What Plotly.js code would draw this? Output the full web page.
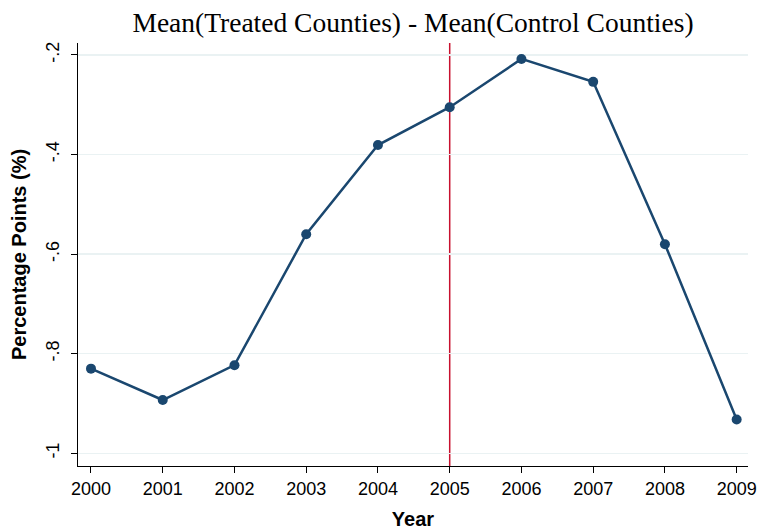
<!DOCTYPE html>
<html><head><meta charset="utf-8">
<script src="https://cdn.plot.ly/plotly-3.0.1.min.js"></script>
<style>html,body{margin:0;padding:0;background:#fff}#chart{width:762px;height:531px}</style>
</head><body><div id="chart"></div>
<script>
const years = [2000, 2001, 2002, 2003, 2004, 2005, 2006, 2007, 2008, 2009];
const diffs = [-0.830, -0.893, -0.823, -0.560, -0.381, -0.305, -0.208, -0.254, -0.580, -0.932];
const yTickVals = [-1, -0.8, -0.6, -0.4, -0.2];
const yTickText = ["-1", "-.8", "-.6", "-.4", "-.2"];
const eventYear = 2005;

const trace = {
  x: years, y: diffs, type: 'scatter', mode: 'lines+markers',
  line: {color: '#1a476f', width: 2.5},
  marker: {color: '#1a476f', size: 10},
  hoverinfo: 'skip'
};
const layout = {
  width: 762, height: 531,
  margin: {l: 78, r: 14, t: 43, b: 65},
  paper_bgcolor: '#fff', plot_bgcolor: '#fff',
  showlegend: false,
  title: {text: 'Mean(Treated Counties) - Mean(Control Counties)',
    font: {family: 'Liberation Serif, Times New Roman, serif', size: 27.5, color: '#000'},
    x: 0.542, xanchor: 'center', y: 0.958, yanchor: 'middle'},
  xaxis: {
    range: [1999.819, 2009.158], tickvals: years, ticktext: years.map(String),
    showgrid: false, zeroline: false, showline: true, linecolor: '#000', linewidth: 1,
    ticks: 'outside', ticklen: 6, tickcolor: '#000', tickwidth: 1,
    tickfont: {family: 'Liberation Sans, Arial, sans-serif', size: 18, color: '#000'},
    title: {text: '<b>Year</b>', font: {family: 'Liberation Sans, Arial, sans-serif', size: 20, color: '#000'}, standoff: 14}
  },
  yaxis: {
    range: [-1.0255, -0.176], tickvals: yTickVals, ticktext: yTickText, tickangle: -90,
    ticklabelstandoff: 5,
    showgrid: true, gridcolor: '#eaf2f3', gridwidth: 1.5,
    zeroline: false, showline: true, linecolor: '#000', linewidth: 1,
    ticks: 'outside', ticklen: 6, tickcolor: '#000', tickwidth: 1,
    tickfont: {family: 'Liberation Sans, Arial, sans-serif', size: 18, color: '#000'},
    title: {text: '<b>Percentage Points (%)</b>', font: {family: 'Liberation Sans, Arial, sans-serif', size: 20, color: '#000'}, standoff: 10}
  },
  shapes: [{type: 'line', xref: 'x', yref: 'paper', x0: eventYear, x1: eventYear, y0: 0, y1: 1,
    line: {color: '#c8102e', width: 1.5}, layer: 'below'}]
};
Plotly.newPlot('chart', [trace], layout, {displayModeBar: false, staticPlot: true});
</script></body></html>
